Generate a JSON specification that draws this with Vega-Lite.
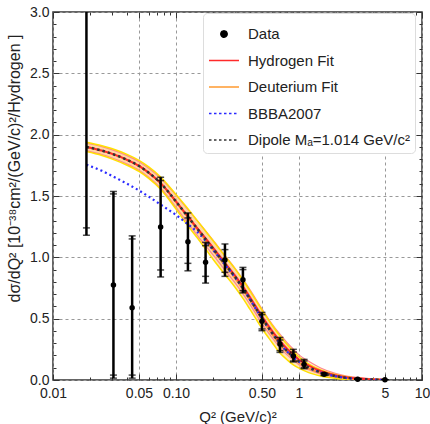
{
  "$schema": "https://vega.github.io/schema/vega-lite/v6.json",
  "width": 369,
  "height": 368,
  "autosize": {"type": "none"},
  "padding": {"left": 53, "top": 12, "right": 8, "bottom": 44},
  "background": "white",
  "config": {
    "view": {"stroke": "#333", "strokeWidth": 1.5},
    "font": "Liberation Sans",
    "axis": {
      "labelFont": "Liberation Sans",
      "titleFont": "Liberation Sans",
      "labelFontSize": 14,
      "titleFontSize": 15,
      "labelColor": "#222",
      "titleColor": "#222",
      "titleFontWeight": "normal",
      "domain": false
    }
  },
  "datasets": {
    "curves": [
      {"q2": 0.0187, "dip": 1.90, "h": 1.90, "hLo": 1.87, "hHi": 1.93, "d": 1.90, "dLo": 1.862, "dHi": 1.938, "bbba": 1.755},
      {"q2": 0.025, "dip": 1.87, "h": 1.87, "hLo": 1.838, "hHi": 1.902, "d": 1.87, "dLo": 1.83, "dHi": 1.91, "bbba": 1.705},
      {"q2": 0.03, "dip": 1.845, "h": 1.845, "hLo": 1.812, "hHi": 1.878, "d": 1.845, "dLo": 1.803, "dHi": 1.887, "bbba": 1.665},
      {"q2": 0.04, "dip": 1.795, "h": 1.795, "hLo": 1.761, "hHi": 1.829, "d": 1.795, "dLo": 1.751, "dHi": 1.839, "bbba": 1.60},
      {"q2": 0.05, "dip": 1.745, "h": 1.745, "hLo": 1.71, "hHi": 1.78, "d": 1.745, "dLo": 1.70, "dHi": 1.79, "bbba": 1.545},
      {"q2": 0.06, "dip": 1.69, "h": 1.69, "hLo": 1.653, "hHi": 1.727, "d": 1.69, "dLo": 1.643, "dHi": 1.737, "bbba": 1.495},
      {"q2": 0.075, "dip": 1.605, "h": 1.605, "hLo": 1.565, "hHi": 1.645, "d": 1.605, "dLo": 1.555, "dHi": 1.655, "bbba": 1.43},
      {"q2": 0.1, "dip": 1.455, "h": 1.457, "hLo": 1.407, "hHi": 1.507, "d": 1.453, "dLo": 1.393, "dHi": 1.513, "bbba": 1.345},
      {"q2": 0.125, "dip": 1.33, "h": 1.333, "hLo": 1.278, "hHi": 1.388, "d": 1.327, "dLo": 1.257, "dHi": 1.397, "bbba": 1.27},
      {"q2": 0.15, "dip": 1.23, "h": 1.235, "hLo": 1.175, "hHi": 1.295, "d": 1.225, "dLo": 1.155, "dHi": 1.295, "bbba": 1.205},
      {"q2": 0.2, "dip": 1.07, "h": 1.08, "hLo": 1.02, "hHi": 1.14, "d": 1.06, "dLo": 0.985, "dHi": 1.135, "bbba": 1.06},
      {"q2": 0.25, "dip": 0.945, "h": 0.955, "hLo": 0.895, "hHi": 1.015, "d": 0.935, "dLo": 0.86, "dHi": 1.01, "bbba": 0.94},
      {"q2": 0.3, "dip": 0.845, "h": 0.855, "hLo": 0.795, "hHi": 0.915, "d": 0.835, "dLo": 0.76, "dHi": 0.91, "bbba": 0.84},
      {"q2": 0.35, "dip": 0.75, "h": 0.762, "hLo": 0.702, "hHi": 0.822, "d": 0.74, "dLo": 0.665, "dHi": 0.815, "bbba": 0.745},
      {"q2": 0.4, "dip": 0.66, "h": 0.675, "hLo": 0.615, "hHi": 0.735, "d": 0.65, "dLo": 0.575, "dHi": 0.725, "bbba": 0.655},
      {"q2": 0.5, "dip": 0.505, "h": 0.52, "hLo": 0.46, "hHi": 0.58, "d": 0.495, "dLo": 0.42, "dHi": 0.57, "bbba": 0.50},
      {"q2": 0.6, "dip": 0.39, "h": 0.405, "hLo": 0.35, "hHi": 0.46, "d": 0.38, "dLo": 0.31, "dHi": 0.45, "bbba": 0.385},
      {"q2": 0.7, "dip": 0.30, "h": 0.318, "hLo": 0.263, "hHi": 0.373, "d": 0.29, "dLo": 0.22, "dHi": 0.36, "bbba": 0.295},
      {"q2": 0.8, "dip": 0.237, "h": 0.255, "hLo": 0.205, "hHi": 0.305, "d": 0.227, "dLo": 0.165, "dHi": 0.289, "bbba": 0.232},
      {"q2": 0.9, "dip": 0.188, "h": 0.206, "hLo": 0.161, "hHi": 0.251, "d": 0.178, "dLo": 0.123, "dHi": 0.233, "bbba": 0.184},
      {"q2": 1.0, "dip": 0.15, "h": 0.165, "hLo": 0.125, "hHi": 0.205, "d": 0.142, "dLo": 0.097, "dHi": 0.187, "bbba": 0.147},
      {"q2": 1.2, "dip": 0.103, "h": 0.118, "hLo": 0.083, "hHi": 0.153, "d": 0.095, "dLo": 0.06, "dHi": 0.13, "bbba": 0.10},
      {"q2": 1.5, "dip": 0.063, "h": 0.073, "hLo": 0.048, "hHi": 0.098, "d": 0.058, "dLo": 0.033, "dHi": 0.083, "bbba": 0.061},
      {"q2": 2.0, "dip": 0.031, "h": 0.037, "hLo": 0.022, "hHi": 0.052, "d": 0.028, "dLo": 0.013, "dHi": 0.043, "bbba": 0.03},
      {"q2": 2.5, "dip": 0.016, "h": 0.02, "hLo": 0.01, "hHi": 0.03, "d": 0.014, "dLo": 0.004, "dHi": 0.024, "bbba": 0.015},
      {"q2": 3.0, "dip": 0.009, "h": 0.012, "hLo": 0.002, "hHi": 0.022, "d": 0.007, "dLo": 0.001, "dHi": 0.014, "bbba": 0.0085},
      {"q2": 4.0, "dip": 0.0035, "h": 0.0045, "hLo": 0.0005, "hHi": 0.0085, "d": 0.0035, "dLo": 0.0005, "dHi": 0.0065, "bbba": 0.003},
      {"q2": 5.0, "dip": 0.0015, "h": 0.0025, "hLo": 0.0005, "hHi": 0.0045, "d": 0.0015, "dLo": 0.0, "dHi": 0.003, "bbba": 0.0014}
    ],
    "pts": [
      {"q2": 0.0187, "v": 3.6, "s_lo": 1.24, "s_hi": 5.96, "t_lo": 1.18, "t_hi": 6.02},
      {"q2": 0.031, "v": 0.775, "s_lo": 0.04, "s_hi": 1.517, "t_lo": 0.015, "t_hi": 1.537},
      {"q2": 0.044, "v": 0.59, "s_lo": 0.04, "s_hi": 1.15, "t_lo": 0.015, "t_hi": 1.175},
      {"q2": 0.075, "v": 1.248, "s_lo": 0.897, "s_hi": 1.626, "t_lo": 0.84, "t_hi": 1.653},
      {"q2": 0.125, "v": 1.128, "s_lo": 0.951, "s_hi": 1.321, "t_lo": 0.89, "t_hi": 1.362},
      {"q2": 0.174, "v": 0.959, "s_lo": 0.845, "s_hi": 1.095, "t_lo": 0.79, "t_hi": 1.122},
      {"q2": 0.25, "v": 0.979, "s_lo": 0.878, "s_hi": 1.063, "t_lo": 0.845, "t_hi": 1.109},
      {"q2": 0.35, "v": 0.818, "s_lo": 0.728, "s_hi": 0.90, "t_lo": 0.71, "t_hi": 0.918},
      {"q2": 0.5, "v": 0.478, "s_lo": 0.416, "s_hi": 0.533, "t_lo": 0.402, "t_hi": 0.551},
      {"q2": 0.7, "v": 0.294, "s_lo": 0.239, "s_hi": 0.326, "t_lo": 0.225, "t_hi": 0.347},
      {"q2": 0.9, "v": 0.196, "s_lo": 0.155, "s_hi": 0.228, "t_lo": 0.147, "t_hi": 0.25},
      {"q2": 1.1, "v": 0.127, "s_lo": 0.10, "s_hi": 0.155, "t_lo": 0.092, "t_hi": 0.168},
      {"q2": 1.6, "v": 0.046, "s_lo": 0.04, "s_hi": 0.053, "t_lo": 0.036, "t_hi": 0.057},
      {"q2": 3.0, "v": 0.006, "s_lo": 0.004, "s_hi": 0.008, "t_lo": 0.003, "t_hi": 0.009},
      {"q2": 5.0, "v": 0.0015, "s_lo": 0.001, "s_hi": 0.002, "t_lo": 0.0005, "t_hi": 0.0025}
    ]
  },
  "resolve": {"axis": {"x": "independent", "y": "independent"}},
  "layer": [
    {
      "data": {"name": "curves"},
      "mark": {"type": "area", "color": "#ffb0b0", "opacity": 0.35, "interpolate": "monotone", "clip": true},
      "encoding": {
        "x": {"field": "q2", "type": "quantitative",
          "scale": {"type": "log", "domain": [0.01, 10], "nice": false},
          "axis": {"orient": "bottom", "values": [0.01, 0.05, 0.1, 0.5, 1, 5, 10],
            "labelExpr": "datum.value == 0.01 ? '0.01' : datum.value == 0.05 ? '0.05' : datum.value == 0.1 ? '0.10' : datum.value == 0.5 ? '0.50' : format(datum.value, 'd')",
            "ticks": false, "grid": true, "gridDash": [3, 3], "gridColor": "#999", "gridWidth": 1,
            "labelPadding": 6, "labelFlush": false, "labelOverlap": false,
            "title": "Q² (GeV/c)²", "titlePadding": 9}},
        "y": {"field": "hLo", "type": "quantitative",
          "scale": {"domain": [0, 3], "nice": false},
          "axis": {"orient": "left", "values": [0, 0.5, 1, 1.5, 2, 2.5, 3], "format": ".1f",
            "ticks": false, "grid": true, "gridDash": [3, 3], "gridColor": "#999", "gridWidth": 1,
            "labelPadding": 4, "labelFlush": false, "labelOverlap": false,
            "title": "dσ/dQ² [10⁻³⁸cm²/(GeV/c)²/Hydrogen ]", "titleFontSize": 16, "titleX": -31, "titleY": 156}},
        "y2": {"field": "hHi"}
      }
    },
    {
      "data": {"name": "curves"},
      "mark": {"type": "area", "color": "#ffc860", "opacity": 0.45, "interpolate": "monotone", "clip": true},
      "encoding": {
        "x": {"field": "q2", "type": "quantitative",
          "axis": {"orient": "bottom", "values": [0.01, 0.05, 0.1, 0.5, 1, 5, 10], "labels": false, "grid": false, "tickSize": -6, "tickColor": "#333", "tickWidth": 1, "title": null}},
        "y": {"field": "dLo", "type": "quantitative",
          "axis": {"orient": "left", "values": [0, 0.5, 1, 1.5, 2, 2.5, 3], "labels": false, "grid": false, "tickSize": -6, "tickColor": "#333", "tickWidth": 1, "title": null}},
        "y2": {"field": "dHi"}
      }
    },
    {
      "data": {"name": "curves"},
      "mark": {"type": "line", "color": "#ff8a8a", "strokeWidth": 1.2, "interpolate": "monotone", "clip": true},
      "encoding": {
        "x": {"field": "q2", "type": "quantitative",
          "axis": {"orient": "bottom", "values": [0.02, 0.03, 0.04, 0.06, 0.07, 0.08, 0.09, 0.2, 0.3, 0.4, 0.6, 0.7, 0.8, 0.9, 2, 3, 4, 6, 7, 8, 9], "labels": false, "grid": false, "tickSize": -3, "tickColor": "#333", "tickWidth": 1, "title": null}},
        "y": {"field": "hLo", "type": "quantitative",
          "axis": {"orient": "left", "values": [0.1, 0.2, 0.3, 0.4, 0.6, 0.7, 0.8, 0.9, 1.1, 1.2, 1.3, 1.4, 1.6, 1.7, 1.8, 1.9, 2.1, 2.2, 2.3, 2.4, 2.6, 2.7, 2.8, 2.9], "labels": false, "grid": false, "tickSize": -3, "tickColor": "#333", "tickWidth": 1, "title": null}}
      }
    },
    {
      "data": {"name": "curves"},
      "mark": {"type": "line", "color": "#ff8a8a", "strokeWidth": 1.2, "interpolate": "monotone", "clip": true},
      "encoding": {
        "x": {"field": "q2", "type": "quantitative",
          "axis": {"orient": "top", "values": [0.01, 0.05, 0.1, 0.5, 1, 5, 10], "labels": false, "grid": false, "tickSize": -6, "tickColor": "#333", "tickWidth": 1, "title": null}},
        "y": {"field": "hHi", "type": "quantitative",
          "axis": {"orient": "right", "values": [0, 0.5, 1, 1.5, 2, 2.5, 3], "labels": false, "grid": false, "tickSize": -6, "tickColor": "#333", "tickWidth": 1, "title": null}}
      }
    },
    {
      "data": {"name": "curves"},
      "mark": {"type": "line", "color": "#ffe000", "strokeWidth": 1.5, "interpolate": "monotone", "clip": true},
      "encoding": {
        "x": {"field": "q2", "type": "quantitative",
          "axis": {"orient": "top", "values": [0.02, 0.03, 0.04, 0.06, 0.07, 0.08, 0.09, 0.2, 0.3, 0.4, 0.6, 0.7, 0.8, 0.9, 2, 3, 4, 6, 7, 8, 9], "labels": false, "grid": false, "tickSize": -3, "tickColor": "#333", "tickWidth": 1, "title": null}},
        "y": {"field": "dLo", "type": "quantitative",
          "axis": {"orient": "right", "values": [0.1, 0.2, 0.3, 0.4, 0.6, 0.7, 0.8, 0.9, 1.1, 1.2, 1.3, 1.4, 1.6, 1.7, 1.8, 1.9, 2.1, 2.2, 2.3, 2.4, 2.6, 2.7, 2.8, 2.9], "labels": false, "grid": false, "tickSize": -3, "tickColor": "#333", "tickWidth": 1, "title": null}}
      }
    },
    {
      "data": {"name": "curves"},
      "mark": {"type": "line", "color": "#ffe000", "strokeWidth": 1.5, "interpolate": "monotone", "clip": true},
      "encoding": {
        "x": {"field": "q2", "type": "quantitative", "axis": null},
        "y": {"field": "dHi", "type": "quantitative", "axis": null}
      }
    },
    {
      "data": {"name": "curves"},
      "mark": {"type": "line", "strokeWidth": 2, "interpolate": "monotone", "clip": true},
      "encoding": {
        "x": {"field": "q2", "type": "quantitative", "axis": null},
        "y": {"field": "d", "type": "quantitative", "axis": null},
        "color": {"datum": "Deuterium Fit", "type": "nominal",
          "scale": {"domain": ["Data", "Hydrogen Fit", "Deuterium Fit", "BBBA2007", "Dipole Mₐ=1.014 GeV/c²"],
                    "range": ["#000000", "#ff2a2a", "#ff9a30", "#2a2aff", "#333333"]},
          "legend": {
            "title": null, "orient": "none", "legendX": 150, "legendY": 1,
            "fillColor": "white", "strokeColor": "#dddddd", "cornerRadius": 4, "padding": 5,
            "labelFont": "Liberation Sans", "labelFontSize": 15, "labelColor": "#222",
            "symbolSize": 900, "symbolStrokeWidth": 1.5, "rowPadding": 2.5, "labelOffset": 8, "symbolOffset": 0, "labelLimit": 300,
            "encode": {"symbols": {"update": {
              "shape": {"signal": "datum.label == 'Data' ? 'circle' : 'stroke'"},
              "size": {"signal": "datum.label == 'Data' ? 40 : 900"},
              "fill": {"signal": "datum.label == 'Data' ? 'black' : 'transparent'"},
              "stroke": {"signal": "datum.label == 'Data' ? 'black' : datum.label == 'Hydrogen Fit' ? '#ff2a2a' : datum.label == 'Deuterium Fit' ? '#ff9a30' : datum.label == 'BBBA2007' ? '#2a2aff' : '#333333'"},
              "strokeDash": {"signal": "datum.label == 'BBBA2007' || datum.label == 'Dipole Mₐ=1.014 GeV/c²' ? [2.5, 2.5] : [1, 0]"},
              "strokeWidth": {"value": 1.5}
            }}}
          }}
      }
    },
    {
      "data": {"name": "curves"},
      "mark": {"type": "line", "strokeWidth": 2, "interpolate": "monotone", "clip": true},
      "encoding": {
        "x": {"field": "q2", "type": "quantitative", "axis": null},
        "y": {"field": "h", "type": "quantitative", "axis": null},
        "color": {"datum": "Hydrogen Fit", "type": "nominal"}
      }
    },
    {
      "data": {"name": "curves"},
      "mark": {"type": "line", "strokeWidth": 2.2, "strokeDash": [2, 3], "interpolate": "monotone", "clip": true},
      "encoding": {
        "x": {"field": "q2", "type": "quantitative", "axis": null},
        "y": {"field": "bbba", "type": "quantitative", "axis": null},
        "color": {"datum": "BBBA2007", "type": "nominal"}
      }
    },
    {
      "data": {"name": "curves"},
      "mark": {"type": "line", "strokeWidth": 2.5, "strokeDash": [2.5, 3], "interpolate": "monotone", "clip": true},
      "encoding": {
        "x": {"field": "q2", "type": "quantitative", "axis": null},
        "y": {"field": "dip", "type": "quantitative", "axis": null},
        "color": {"datum": "Dipole Mₐ=1.014 GeV/c²", "type": "nominal"}
      }
    },
    {
      "data": {"name": "pts"},
      "mark": {"type": "rule", "color": "black", "strokeWidth": 2.5, "clip": true},
      "encoding": {
        "x": {"field": "q2", "type": "quantitative", "axis": null},
        "y": {"field": "t_lo", "type": "quantitative", "axis": null},
        "y2": {"field": "t_hi"}
      }
    },
    {
      "data": {"name": "pts"},
      "transform": [{"fold": ["s_lo", "s_hi", "t_lo", "t_hi"], "as": ["kind", "cap"]}],
      "mark": {"type": "tick", "orient": "horizontal", "color": "black", "size": 7, "thickness": 1.5, "clip": true},
      "encoding": {
        "x": {"field": "q2", "type": "quantitative", "axis": null},
        "y": {"field": "cap", "type": "quantitative", "axis": null}
      }
    },
    {
      "data": {"name": "pts"},
      "transform": [{"filter": "datum.v <= 3"}],
      "mark": {"type": "point", "filled": true, "opacity": 1, "size": 30},
      "encoding": {
        "x": {"field": "q2", "type": "quantitative", "axis": null},
        "y": {"field": "v", "type": "quantitative", "axis": null},
        "color": {"datum": "Data", "type": "nominal"}
      }
    }
  ]
}
